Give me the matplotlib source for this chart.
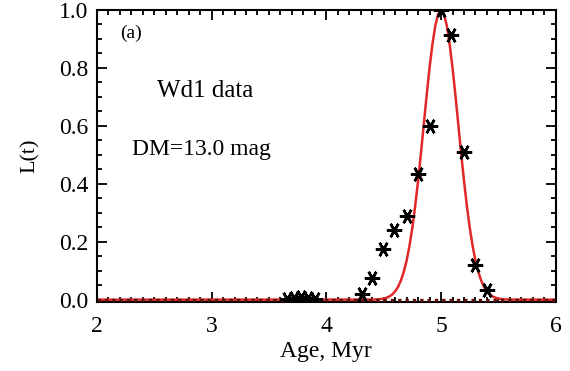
import matplotlib
matplotlib.use("Agg")
import matplotlib.pyplot as plt
from matplotlib.ticker import MultipleLocator

# Data
data_age = [3.66, 3.72, 3.78, 3.84, 3.90, 4.31, 4.40, 4.49, 4.59, 4.70, 4.80,
            4.90, 5.00, 5.09, 5.20, 5.30, 5.40]
data_L = [0.004, 0.007, 0.008, 0.006, 0.004, 0.018, 0.075, 0.175, 0.24, 0.29, 0.435,
          0.60, 1.00, 0.913, 0.511, 0.12, 0.035]

model_age = [2.0, 4.40, 4.425, 4.45, 4.475, 4.50, 4.525, 4.55, 4.575, 4.60, 4.625,
             4.65, 4.675, 4.70, 4.725, 4.75, 4.775, 4.80, 4.825, 4.85, 4.875,
             4.90, 4.925, 4.95, 4.975, 5.00, 5.025, 5.05, 5.075, 5.10, 5.125,
             5.15, 5.175, 5.20, 5.225, 5.25, 5.275, 5.30, 5.325, 5.35, 5.375,
             5.40, 5.425, 5.45, 5.475, 5.50, 5.525, 5.55, 5.575, 5.60, 6.0]
model_L = [0.0, 0.0003, 0.0006, 0.0012, 0.0022, 0.004, 0.0067, 0.011, 0.018, 0.029, 0.044,
           0.066, 0.096, 0.135, 0.186, 0.249, 0.325, 0.411, 0.506, 0.607, 0.707,
           0.801, 0.882, 0.946, 0.986, 1.0, 0.986, 0.946, 0.882, 0.801, 0.707,
           0.607, 0.506, 0.411, 0.325, 0.249, 0.186, 0.135, 0.096, 0.066, 0.044,
           0.029, 0.018, 0.011, 0.0067, 0.004, 0.0022, 0.0012, 0.0006, 0.0003, 0.0]

zero_age = [2.0, 6.0]
zero_L = [0.0, 0.0]

xticks = [2, 3, 4, 5, 6]
yticks = [0.0, 0.2, 0.4, 0.6, 0.8, 1.0]

plt.rcParams['font.family'] = ['Liberation Serif', 'DejaVu Serif']

fig = plt.figure(figsize=(5.70, 3.71), dpi=100)
ax = fig.add_axes([0.170, 0.186, 0.805, 0.787])

ax.plot(model_age, model_L, color='#e02828', lw=1.8, zorder=2)
ax.plot(zero_age, zero_L, color='#5a0f0f', lw=2.4, ls=(0, (1.0, 1.2)), zorder=3)
ax.plot(data_age, data_L, ls='none', marker=(6, 2, 90), ms=11, mew=1.8,
        color='black', zorder=4)
ax.plot(data_age, data_L, ls='none', marker='o', ms=4,
        color='black', zorder=4)

ax.set_xlim(2, 6)
ax.set_ylim(-0.008, 1.0)
ax.set_xticks(xticks)
ax.set_xticklabels([str(t) for t in xticks])
ax.set_yticks(yticks)
ax.set_yticklabels([f"{t:.1f}" for t in yticks])
ax.xaxis.set_minor_locator(MultipleLocator(0.1))
ax.yaxis.set_minor_locator(MultipleLocator(0.05))
ax.tick_params(which='both', direction='in', top=True, right=True, width=1.3,
               labelsize=17, colors='black')
ax.tick_params(which='major', length=7)
ax.tick_params(which='minor', length=3.5)
ax.tick_params(axis='x', pad=10)
ax.tick_params(axis='y', pad=6)
for s in ax.spines.values():
    s.set_linewidth(1.5)

ax.set_xlabel('Age, Myr', fontsize=17, labelpad=3)
ax.set_ylabel('L(t)', fontsize=16, labelpad=14)

ax.text(2.2, 0.92, '(a)', fontsize=14, va='center', ha='left')
ax.text(2.52, 0.72, 'Wd1 data', fontsize=18, va='center', ha='left')
ax.text(2.305, 0.52, 'DM=13.0 mag', fontsize=17, va='center', ha='left')

fig.savefig('out.png', dpi=100)
